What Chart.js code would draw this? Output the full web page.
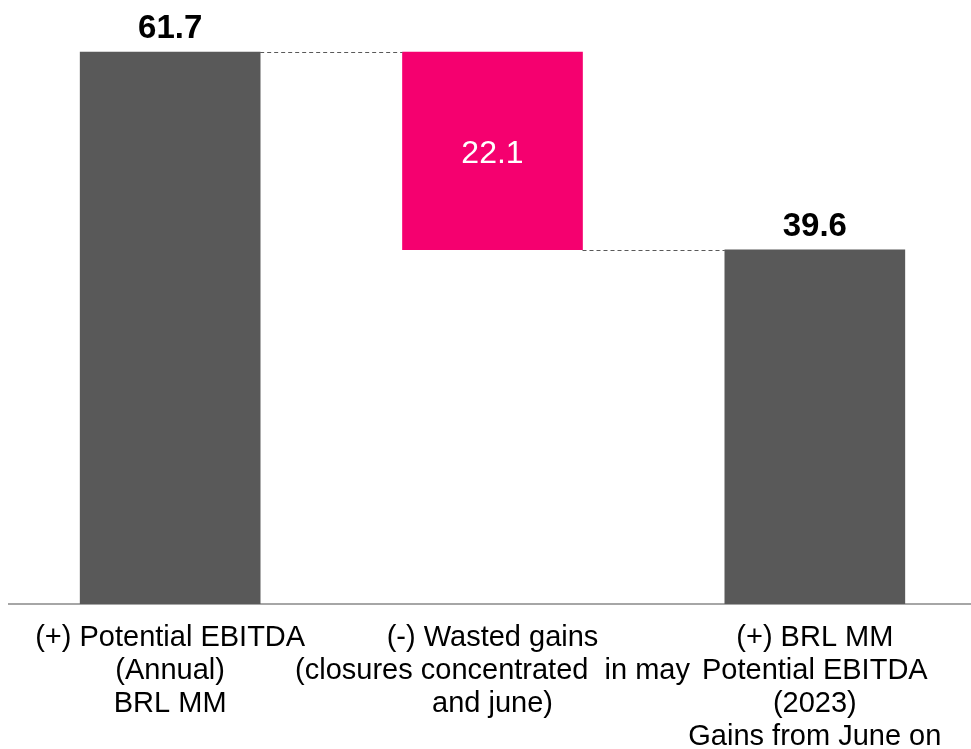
<!DOCTYPE html>
<html>
<head>
<meta charset="utf-8">
<script src="https://cdn.jsdelivr.net/npm/chart.js@4"></script>
<style>
  html, body { margin: 0; padding: 0; background: #fff; overflow: hidden; }
  #wrap { width: 986px; height: 749px; position: relative; }
</style>
</head>
<body>
<div id="wrap"><canvas id="chart1"></canvas></div>
<script>
// 데이터
const categories = [
  ['(+) Potential EBITDA', '(Annual)', 'BRL MM'],
  ['(-) Wasted gains', '(closures concentrated  in may', 'and june)'],
  ['(+) BRL MM', 'Potential EBITDA', '(2023)', 'Gains from June on']
];
const barStart = [0, 39.6, 0];
const barEnd = [61.7, 61.7, 39.6];
const valueLabels = ['61.7', '22.1', '39.6'];

const colors = ['#595959', '#f5006f', '#595959'];

var floating = [];
for (var i = 0; i < barStart.length; i++) {
  floating.push([barStart[i], barEnd[i]]);
}

// 값 라벨 + 연결 점선
const waterfallPlugin = {
  id: 'waterfall',
  afterDatasetsDraw(chart) {
    const ctx = chart.ctx;
    const meta = chart.getDatasetMeta(0);
    const y = chart.scales.y;
    ctx.save();

    // 점선 (다음 막대의 윗변 높이)
    ctx.strokeStyle = '#595959';
    ctx.lineWidth = 1;
    ctx.setLineDash([4, 3]);
    for (var i = 0; i < meta.data.length - 1; i++) {
      const a = meta.data[i], b = meta.data[i + 1];
      const level = Math.round(y.getPixelForValue(barEnd[i + 1])) + 0.5;
      ctx.beginPath();
      ctx.moveTo(a.x + a.width / 2, level);
      ctx.lineTo(b.x - b.width / 2, level);
      ctx.stroke();
    }
    ctx.setLineDash([]);

    // 라벨
    ctx.textAlign = 'center';
    meta.data.forEach(function (bar, i) {
      if (i === 1) {
        ctx.font = '32px "Liberation Sans", Arial, sans-serif';
        ctx.fillStyle = '#ffffff';
        ctx.textBaseline = 'middle';
        const mid = (y.getPixelForValue(barStart[i]) + y.getPixelForValue(barEnd[i])) / 2;
        ctx.fillText(valueLabels[i], bar.x, mid + 3);
      } else {
        ctx.font = 'bold 33px "Liberation Sans", Arial, sans-serif';
        ctx.fillStyle = '#000000';
        ctx.textBaseline = 'alphabetic';
        ctx.fillText(valueLabels[i], bar.x, y.getPixelForValue(barEnd[i]) - 14);
      }
    });
    ctx.restore();
  }
};

var ctx = document.getElementById('chart1').getContext('2d');
new Chart(ctx, {
  type: 'bar',
  data: {
    labels: categories,
    datasets: [{
      data: floating,
      backgroundColor: colors,
      borderWidth: 0,
      barThickness: 180,
    }],
  },
  options: {
    responsive: true,
    maintainAspectRatio: false,
    animation: false,
    layout: { padding: { left: 9, right: 10, top: 0, bottom: 0 } },
    plugins: {
      legend: { display: false },
      tooltip: { enabled: false },
    },
    scales: {
      x: {
        grid: { display: false },
        border: { display: true, color: '#a6a6a6', width: 2 },
        ticks: {
          color: '#000000',
          padding: 9,
          maxRotation: 0,
          autoSkip: false,
          font: { family: '"Liberation Sans", Arial, sans-serif', size: 29, lineHeight: 1.14 },
        },
        afterFit: function (scale) { scale.height = 145; },
      },
      y: {
        display: false,
        min: 0,
        max: 67.51,
      },
    },
  },
  plugins: [waterfallPlugin],
});
</script>
</body>
</html>
